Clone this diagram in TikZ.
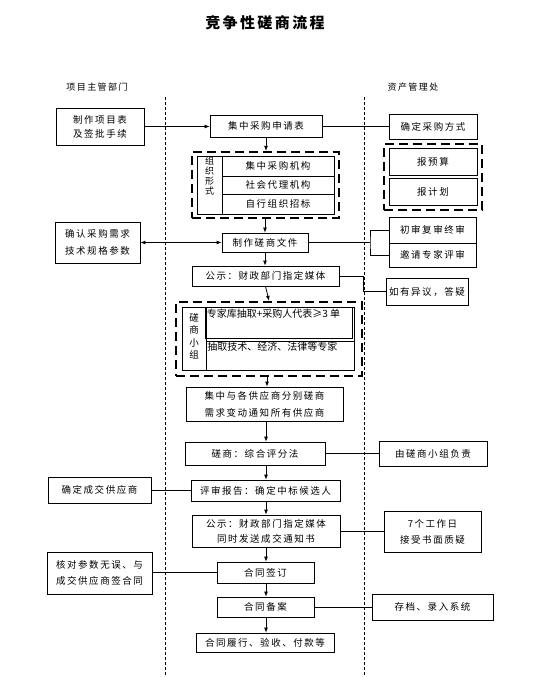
\documentclass[tikz,border=0pt]{standalone}
\usepackage{fontspec}
\setmainfont{Noto Sans CJK SC}[LetterSpace=16]
\newfontfamily\tightcjk{Noto Sans CJK SC}
\usetikzlibrary{arrows.meta,calc}
\begin{document}
\begin{tikzpicture}[x=1pt,y=-1pt,
  box/.style={draw, line width=0.8pt, inner sep=0pt, align=center,
    font=\fontsize{9.5}{16}\selectfont},
  dbox/.style={draw, line width=2.3pt, dash pattern=on 9pt off 5pt, inner sep=0pt},
  lane/.style={line width=0.7pt, dash pattern=on 3pt off 2pt},
  arr/.style={-{Latex[length=5pt,width=4pt]}, line width=0.8pt},
  conn/.style={line width=0.8pt},
  lbl/.style={inner sep=0pt, font=\fontsize{9}{11}\selectfont}]
\useasboundingbox (0,0) rectangle (545,677);

% title and lanes
\node[inner sep=0pt, font=\fontsize{15}{18}\selectfont\bfseries] (title) at (265,23) {竞争性磋商流程};
\node[lbl] (hl) at (97,87) {项目主管部门};
\node[lbl] (hr) at (413,87) {资产管理处};
\coordinate (l1) at (165,97);  \coordinate (l2) at (165,677);
\coordinate (r1) at (364,97);  \coordinate (r2) at (364,677);
\draw[lane] (l1) -- (l2);
\draw[lane] (r1) -- (r2);

% row 1
\node[box, minimum width=88, minimum height=37, font=\fontsize{9.5}{14}\selectfont] (b1) at (100,126.5) {制作项目表\\及签批手续};
\node[box, minimum width=112, minimum height=22] (b2) at (266,126) {集中采购申请表};
\node[box, minimum width=88, minimum height=25] (b3) at (433,126.5) {确定采购方式};
\draw[arr] (b1.east) -- (b1.east -| b2.west);
\draw[conn] (b2.east) -- (b2.east -| b3.west);

% organisation form
\node[dbox, minimum width=147, minimum height=66] (dorg) at (265.5,185) {};
\node[box, minimum width=25, minimum height=58, text depth=0pt] (ocol) at (209.5,185) {};
\node[inner sep=0pt, align=center, anchor=north, font=\fontsize{9}{10}\selectfont] (otxt) at (209.5,156.5) {组\\织\\形\\式};
\node[box, minimum width=112, minimum height=20] (o1) at (278,166) {集中采购机构};
\node[box, minimum width=112, minimum height=18] (o2) at (278,185) {社会代理机构};
\node[box, minimum width=112, minimum height=20] (o3) at (278,204) {自行组织招标};
\draw[arr] (b2.south) -- (b2.south |- dorg.north);

% budget / plan
\node[dbox, minimum width=98, minimum height=66] (dplan) at (433,177) {};
\node[box, minimum width=88, minimum height=27] (p1) at (433,161.5) {报预算};
\node[box, minimum width=88, minimum height=27] (p2) at (433,191.5) {报计划};

% row: documents
\node[box, minimum width=85, minimum height=41, font=\fontsize{9.5}{17}\selectfont] (b6) at (97.5,242.5) {确认采购需求\\技术规格参数};
\node[box, minimum width=86, minimum height=19] (b7) at (265,242.5) {制作磋商文件};
\node[box, minimum width=87, minimum height=26] (b8a) at (432.5,230) {初审复审终审};
\node[box, minimum width=87, minimum height=24] (b8b) at (432.5,255) {邀请专家评审};
\draw[arr] (dorg.south -| b7.north) -- (b7.north);
\draw[arr, {Latex[length=5pt,width=4pt]}-{Latex[length=5pt,width=4pt]}] (b6.east) -- (b6.east -| b7.west);
\coordinate (br) at (370,242.5);
\draw[conn] (b7.east) -- (br);
\draw[conn] (b8a.west) -| (br) |- (b8b.west);

% notice
\node[box, minimum width=147, minimum height=20] (b9) at (265.5,276) {公示：财政部门指定媒体};
\node[box, minimum width=82, minimum height=27] (b10) at (427,291.5) {如有异议，答疑};
\draw[arr] (b7.south) -- (b7.south |- b9.north);
\coordinate (k1) at (363,276);
\draw[conn] (b9.east) -- (k1) |- (b10.west);

% negotiation team
\node[dbox, minimum width=186, minimum height=74] (dteam) at (269,339) {};
\node[box, minimum width=172, minimum height=63] (tin) at (268,338.5) {};
\node[box, minimum width=24, minimum height=63] (tcol) at (194,338.5) {};
\node[inner sep=0pt, align=center, anchor=north, font=\fontsize{9.5}{12.5}\selectfont] (ttxt) at (194,313) {磋\\商\\小\\组};
\node[box, minimum width=147, minimum height=31] (tc1) at (279,322.5) {};
\node[box, minimum width=148, minimum height=29] (tc2) at (280,355.5) {};
\node[inner sep=0pt, anchor=north west, font=\tightcjk\fontsize{10}{12}\selectfont] (t1) at ($(tc1.north west)+(1.5,2)$) {专家库抽取+采购人代表≥3 单};
\node[inner sep=0pt, anchor=north west, font=\tightcjk\fontsize{10}{12}\selectfont] (t2) at ($(tc2.north west)+(1.5,1.5)$) {抽取技术、经济、法律等专家};
\draw[arr] (b9.south) -- (dteam.north);

\node[box, minimum width=157, minimum height=34, font=\fontsize{9.5}{17}\selectfont] (b12) at (264.5,404) {集中与各供应商分别磋商\\需求变动通知所有供应商};
\draw[arr] (dteam.south -| 267,0) -- (b12.north -| 267,0);

% evaluation
\node[box, minimum width=140, minimum height=23] (b13) at (255,453.5) {磋商：综合评分法};
\node[box, minimum width=108, minimum height=25] (b14) at (433,453.5) {由磋商小组负责};
\draw[arr] (b12.south -| 266,0) -- (b13.north -| 266,0);
\draw[conn] (b13.east) -- (b13.east -| b14.west);

\node[box, minimum width=103, minimum height=26] (b15) at (99.5,490) {确定成交供应商};
\node[box, minimum width=149, minimum height=21] (b16) at (265.5,490.5) {评审报告：确定中标候选人};
\draw[arr] (b13.south -| 266,0) -- (b16.north -| 266,0);
\draw[conn] (b16.west) -- (b16.west -| b15.east);

\node[box, minimum width=148, minimum height=32, font=\fontsize{9.5}{15}\selectfont] (b17) at (266,531) {公示：财政部门指定媒体\\同时发送成交通知书};
\node[box, minimum width=97, minimum height=41, font=\fontsize{9.5}{16}\selectfont] (b18) at (432.5,531.5) {7个工作日\\接受书面质疑};
\draw[arr] (b16.south -| 266,0) -- (b17.north -| 266,0);
\draw[conn] (b17.east) -- (b17.east -| b18.west);

% contract
\node[box, minimum width=97, minimum height=21] (b19) at (265.5,572.5) {合同签订};
\node[box, minimum width=105, minimum height=42, font=\fontsize{9.5}{16}\selectfont] (b20) at (99.5,573) {核对参数无误、与\\成交供应商签合同};
\draw[arr] (b17.south -| 266,0) -- (b19.north -| 266,0);
\draw[conn] (b19.west) -- (b19.west -| b20.east);

\node[box, minimum width=97, minimum height=20] (b21) at (265.5,607) {合同备案};
\node[box, minimum width=121, minimum height=26] (b22) at (432.5,607) {存档、录入系统};
\draw[arr] (b19.south -| 266,0) -- (b21.north -| 266,0);
\draw[conn] (b21.east) -- (b21.east -| b22.west);

\node[box, minimum width=138, minimum height=19] (b23) at (265,642.5) {合同履行、验收、付款等};
\draw[arr] (b21.south -| 266,0) -- (b23.north -| 266,0);
\end{tikzpicture}
\end{document}
